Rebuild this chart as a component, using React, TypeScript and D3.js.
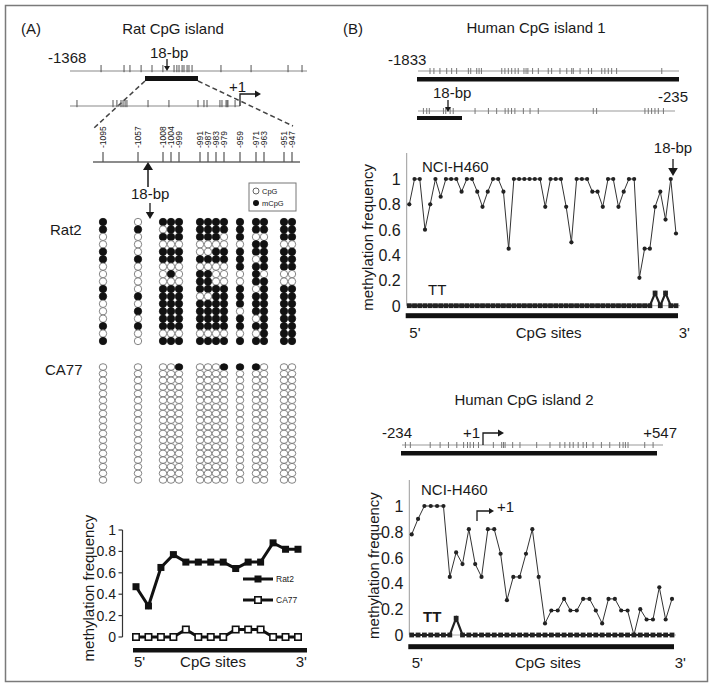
import React from "react";
import * as d3 from "d3";

// ---------- (A) Rat CpG island ----------
const ratSites = ["-1095", "-1057", "-1008", "-1004", "-999", "-991", "-987", "-983", "-979", "-959", "-971", "-963", "-951", "-947"];
const ratGroups = [1, 1, 3, 4, 1, 2, 2];

// 1 = mCpG, 0 = CpG, one string per site (top row first)
const rat2Pattern = [
  "11001100011000101",
  "01000100001010100",
  "10101100011111101",
  "11101101011111101",
  "11101100011111101",
  "11100101110111101",
  "11100101110111101",
  "11101100011111101",
  "11001100011111101",
  "11101110011101101",
  "11011011101110101",
  "11011110111111111",
  "11101110011111111",
  "11101110011111111",
];
const ca77Pattern = [
  "000000000000000000",
  "000000000000000000",
  "000000000000000000",
  "000000000000000000",
  "100000000000000000",
  "000000000000000000",
  "000000000000000000",
  "000000000000000000",
  "100000000000000000",
  "100000000000000000",
  "100000000000000000",
  "000000000000000000",
  "000000000000000000",
  "000000000000000000",
];

const rat2Freq = [0.47, 0.29, 0.65, 0.77, 0.7, 0.7, 0.7, 0.7, 0.64, 0.7, 0.7, 0.88, 0.82, 0.82];
const ca77Freq = [0, 0, 0, 0, 0.07, 0, 0, 0, 0.07, 0.07, 0.07, 0, 0, 0];

// CpG positions along each map line (% of line length)
const ratMap1 = [13.1, 22.8, 25.3, 30.0, 34.6, 39.2, 43.9, 45.1, 46.0, 47.3, 48.1, 49.4, 50.2, 51.5, 63.7, 76.4, 92.0, 97.9];
const ratMap2 = [4.1, 25.3, 27.6, 30.0, 31.2, 32.4, 33.5, 45.9, 58.2, 75.3, 78.8, 80.6, 88.2, 89.4, 91.8, 92.4, 92.9, 97.1];

// ---------- (B) Human CpG islands ----------
const hum1Map1 = [4.6, 6.1, 8.4, 11.0, 12.9, 14.8, 19.3, 20.2, 22.5, 23.4, 24.3, 32.1, 33.3, 34.6, 35.9, 37.2, 38.4, 40.6, 41.4, 42.1, 43.9, 46.1, 49.9, 51.2, 54.4, 57.0, 58.9, 59.5, 62.1, 65.3, 66.5, 70.4, 71.6, 72.9, 74.2, 76.1, 93.4];
const hum1Map2 = [2.1, 3.4, 4.4, 9.9, 10.8, 12.5, 13.7, 22.2, 27.4, 30.6, 33.9, 35.1, 36.4, 37.7, 41.0, 43.6, 46.8, 68.2, 69.5, 88.3, 89.6, 90.9, 92.2, 93.5, 95.5];
const hum2Map = [1.3, 3.2, 10.8, 14.6, 17.8, 21.0, 23.6, 25.1, 26.1, 27.4, 29.3, 35.0, 38.2, 38.9, 39.5, 42.4, 45.2, 51.6, 56.7, 60.5, 62.4, 64.3, 65.6, 67.5, 69.4, 70.7, 73.2, 76.4, 79.6, 83.4, 84.7, 85.6, 86.6, 93.0, 96.2];

const h1NCI = [0.8, 1, 1, 0.6, 0.8, 1, 0.86, 1, 1, 1, 0.9, 1, 1, 0.9, 0.78, 0.9, 1, 1, 0.9, 0.45, 1, 1, 1, 1, 1, 1, 0.78, 1, 1, 1, 0.78, 0.5, 1, 1, 1, 0.9, 0.9, 0.78, 1, 1, 0.78, 0.9, 1, 1, 0.22, 0.45, 0.45, 0.78, 0.9, 0.68, 1, 0.57];
const h1TT = [0, 0, 0, 0, 0, 0, 0, 0, 0, 0, 0, 0, 0, 0, 0, 0, 0, 0, 0, 0, 0, 0, 0, 0, 0, 0, 0, 0, 0, 0, 0, 0, 0, 0, 0, 0, 0, 0, 0, 0, 0, 0, 0, 0, 0, 0, 0, 0.1, 0, 0.1, 0, 0];
const h2NCI = [0.78, 0.9, 1, 1, 1, 1, 0.45, 0.64, 0.55, 0.82, 0.55, 0.45, 0.82, 0.82, 0.63, 0.27, 0.45, 0.45, 0.63, 0.82, 0.45, 0.09, 0.19, 0.19, 0.28, 0.19, 0.19, 0.28, 0.28, 0.19, 0.09, 0.28, 0.28, 0.19, 0.19, 0, 0.2, 0.12, 0.12, 0.37, 0.12, 0.28];
const h2TT = [0, 0, 0, 0, 0, 0, 0, 0.13, 0, 0, 0, 0, 0, 0, 0, 0, 0, 0, 0, 0, 0, 0, 0, 0, 0, 0, 0, 0, 0, 0, 0, 0, 0, 0, 0, 0, 0, 0, 0, 0, 0, 0];

const yTicks = [0, 0.2, 0.4, 0.6, 0.8, 1];

const FONT = "'Liberation Sans', Arial, Helvetica, sans-serif";
const INK = "#1a1a1a";
const fmt = d3.format("~g");

// x of each rat CpG column: 8px inside a group, gaps between groups
const groupGaps = [0, 27, 17, 13, 8, 8, 12];
function ratColumnX(): number[] {
  const xs: number[] = [];
  let x = 103;
  ratGroups.forEach((n, g) => {
    if (g > 0) x += 8 + groupGaps[g];
    for (let j = 0; j < n; j++) {
      if (j > 0) x += 8;
      xs.push(x);
    }
  });
  return xs;
}

// up = ticks stand on the line, otherwise they cross it
function MapLine({ sites, x0, x1, y, h = 3, up = true, color = "#8a8a8a" }: any) {
  const s = d3.scaleLinear().domain([0, 100]).range([x0, x1]);
  return (
    <g>
      <line x1={x0} x2={x1} y1={y} y2={y} stroke={color} strokeWidth={1.2} />
      {sites.map((p: number, i: number) => (
        <line
          key={i}
          x1={s(p)}
          x2={s(p)}
          y1={y - h}
          y2={up ? y + h * 0.2 : y + h}
          stroke={up ? "#555" : "#777"}
          strokeWidth={1}
        />
      ))}
    </g>
  );
}

function DownArrow({ x, y0, y1, head = 5 }: any) {
  return (
    <g>
      <line x1={x} x2={x} y1={y0} y2={y1 - head} stroke={INK} strokeWidth={1.3} />
      <path d={`M${x - head * 0.6},${y1 - head}L${x + head * 0.6},${y1 - head}L${x},${y1}Z`} fill={INK} />
    </g>
  );
}

function BentArrow({ x, yBase, yTop, xEnd, head = 5 }: any) {
  return (
    <g>
      <path d={`M${x},${yBase}V${yTop}H${xEnd - head}`} fill="none" stroke={INK} strokeWidth={1.3} />
      <path d={`M${xEnd - head},${yTop - head * 0.6}L${xEnd},${yTop}L${xEnd - head},${yTop + head * 0.6}Z`} fill={INK} />
    </g>
  );
}

function HumanChart({ nci, tt, x0, x1, y0, y1, yTop, axisX, labelX, barY, textY }: any) {
  const x = d3.scaleLinear().domain([0, nci.length - 1]).range([x0, x1]);
  const y = d3.scaleLinear().domain([0, 1]).range([y0, y1]);
  const line = d3.line<number>().x((_, i) => x(i)).y((d) => y(d));
  return (
    <g fontFamily={FONT} fill={INK}>
      <line x1={axisX} x2={axisX} y1={yTop} y2={y0} stroke="#9a9a9a" strokeWidth={1} />
      <line x1={axisX} x2={x1 + 4} y1={y0} y2={y0} stroke="#b0b0b0" strokeWidth={1} />
      {yTicks.map((t) => (
        <text key={t} x={axisX - 6} y={y(t) + 6} textAnchor="end" fontSize={16}>
          {fmt(t)}
        </text>
      ))}
      <text transform={`translate(${labelX},${(yTop + y0) / 2 + 8}) rotate(-90)`} textAnchor="middle" fontSize={15}>
        methylation frequency
      </text>
      <path d={line(nci) as string} fill="none" stroke="#333" strokeWidth={1} />
      {nci.map((d: number, i: number) => (
        <circle key={i} cx={x(i)} cy={y(d)} r={2.1} fill="#222" />
      ))}
      <path d={line(tt) as string} fill="none" stroke="#222" strokeWidth={2.2} />
      {tt.map((d: number, i: number) => (
        <rect key={i} x={x(i) - 2.4} y={y(d) - 2.4} width={4.8} height={4.8} fill="#222" />
      ))}
      <rect x={axisX - 1} y={barY - 2.5} width={x1 - axisX + 3} height={5} fill="#111" />
      <text x={x0} y={textY} fontSize={15}>5'</text>
      <text x={(x0 + x1) / 2 + 6} y={textY} fontSize={15} textAnchor="middle">CpG sites</text>
      <text x={x1 + 14} y={textY} fontSize={15} textAnchor="end">3'</text>
    </g>
  );
}

export default function App() {
  const colX = ratColumnX();

  // rat lollipop rows
  const rat2Y = d3.scaleLinear().domain([0, 16]).range([222, 341]);
  const ca77Y = d3.scaleLinear().domain([0, 17]).range([367, 480]);

  // rat methylation chart
  const rx = d3.scaleLinear().domain([0, rat2Freq.length - 1]).range([136, 298]);
  const ry = d3.scaleLinear().domain([0, 1]).range([637, 530]);
  const rline = d3.line<number>().x((_, i) => rx(i)).y((d) => ry(d));

  return (
    <svg
      width={714}
      height={693}
      style={{ position: "absolute", left: 0, top: 0, background: "#fff" }}
      fontFamily={FONT}
    >
      <rect x={5.5} y={5.5} width={702} height={676} fill="none" stroke="#7a7a7a" strokeWidth={1.5} />

      {/* ---------- Panel A ---------- */}
      <g fill={INK}>
        <text x={21} y={34} fontSize={15}>(A)</text>
        <text x={173} y={34} fontSize={15} textAnchor="middle">Rat CpG island</text>
        <text x={48} y={63} fontSize={15}>-1368</text>
        <text x={150} y={58} fontSize={15}>18-bp</text>
        <text x={229} y={92} fontSize={15}>+1</text>
      </g>
      <MapLine sites={ratMap1} x0={70} x1={307} y={71} h={6} />
      <DownArrow x={167} y0={59} y1={71} head={5} />
      <rect x={145} y={76} width={53} height={5} fill="#111" />
      <line x1={145} y1={81} x2={94} y2={128} stroke="#444" strokeWidth={1.5} strokeDasharray="5,3" />
      <line x1={198} y1={81} x2={293} y2={126} stroke="#444" strokeWidth={1.5} strokeDasharray="5,3" />
      <MapLine sites={ratMap2} x0={70} x1={240} y={106} h={6} />
      <BentArrow x={240} yBase={106} yTop={94} xEnd={261} head={6} />

      {/* CpG site map */}
      <line x1={93} x2={300} y1={162} y2={162} stroke="#666" strokeWidth={1.3} />
      {ratSites.map((s, i) => (
        <g key={s}>
          <line x1={colX[i]} x2={colX[i]} y1={152} y2={162} stroke="#555" strokeWidth={1.2} />
          <text
            transform={`translate(${colX[i] + 3},${148}) rotate(-90)`}
            fontSize={8.5}
            fill={INK}
          >
            {s}
          </text>
        </g>
      ))}
      <line x1={148} x2={148} y1={168} y2={187} stroke={INK} strokeWidth={1.5} />
      <path d="M143,170L153,170L148,162Z" fill={INK} />
      <text x={131} y={199} fontSize={15} fill={INK}>18-bp</text>
      <DownArrow x={150} y0={203} y1={219} head={7} />

      {/* legend */}
      <rect x={249} y={183} width={47} height={28} fill="#fff" stroke="#777" strokeWidth={1} />
      <circle cx={256} cy={191} r={3} fill="#fff" stroke="#555" strokeWidth={0.9} />
      <text x={262} y={194} fontSize={7.5} fill={INK}>CpG</text>
      <circle cx={256} cy={203} r={3} fill="#111" />
      <text x={262} y={206} fontSize={7.5} fill={INK}>mCpG</text>

      <text x={50} y={235} fontSize={15} fill={INK}>Rat2</text>
      <text x={45} y={375} fontSize={15} fill={INK}>CA77</text>

      {rat2Pattern.map((col, i) =>
        col.split("").map((c, r) => (
          <circle
            key={`r${i}-${r}`}
            cx={colX[i]}
            cy={rat2Y(r)}
            r={3.7}
            fill={c === "1" ? "#111" : "#fff"}
            stroke={c === "1" ? "#111" : "#666"}
            strokeWidth={0.8}
          />
        ))
      )}
      {ca77Pattern.map((col, i) =>
        col.split("").map((c, r) => (
          <ellipse
            key={`c${i}-${r}`}
            cx={colX[i]}
            cy={ca77Y(r)}
            rx={3.8}
            ry={3.3}
            fill={c === "1" ? "#111" : "#fff"}
            stroke={c === "1" ? "#111" : "#666"}
            strokeWidth={0.8}
          />
        ))
      )}

      {/* rat methylation chart */}
      <g fill={INK}>
        <line x1={122.5} x2={122.5} y1={ry(1)} y2={ry(0)} stroke="#333" strokeWidth={1.2} />
        {yTicks.map((t) => (
          <g key={t}>
            <line x1={118.5} x2={122.5} y1={ry(t)} y2={ry(t)} stroke="#333" strokeWidth={1.2} />
            <text x={116} y={ry(t) + 5} fontSize={14} textAnchor="end">{fmt(t)}</text>
          </g>
        ))}
        <text transform={`translate(94,588) rotate(-90)`} fontSize={15} textAnchor="middle">
          methylation frequency
        </text>
        <path d={rline(rat2Freq) as string} fill="none" stroke="#111" strokeWidth={3} />
        {rat2Freq.map((d, i) => (
          <rect key={i} x={rx(i) - 3.5} y={ry(d) - 3.5} width={7} height={7} fill="#111" />
        ))}
        <path d={rline(ca77Freq) as string} fill="none" stroke="#111" strokeWidth={3} />
        {ca77Freq.map((d, i) => (
          <rect key={i} x={rx(i) - 3.2} y={ry(d) - 3.2} width={6.4} height={6.4} fill="#fff" stroke="#111" strokeWidth={1.6} />
        ))}
        <line x1={243} x2={273} y1={579} y2={579} stroke="#111" strokeWidth={3} />
        <rect x={254.5} y={575.5} width={7} height={7} fill="#111" />
        <text x={276} y={582} fontSize={8.5}>Rat2</text>
        <line x1={243} x2={273} y1={600} y2={600} stroke="#111" strokeWidth={3} />
        <rect x={254.8} y={596.8} width={6.4} height={6.4} fill="#fff" stroke="#111" strokeWidth={1.6} />
        <text x={276} y={603} fontSize={8.5}>CA77</text>
        <rect x={133} y={648} width={174} height={4.5} fill="#111" />
        <text x={134} y={667} fontSize={15}>5'</text>
        <text x={213} y={667} fontSize={15} textAnchor="middle">CpG sites</text>
        <text x={307} y={667} fontSize={15} textAnchor="end">3'</text>
      </g>

      {/* ---------- Panel B ---------- */}
      <g fill={INK}>
        <text x={343} y={34} fontSize={15}>(B)</text>
        <text x={536} y={33} fontSize={15} textAnchor="middle">Human CpG island 1</text>
        <text x={388} y={65} fontSize={15}>-1833</text>
        <text x={433} y={98} fontSize={15}>18-bp</text>
        <text x={688} y={102} fontSize={15} textAnchor="end">-235</text>
      </g>
      <MapLine sites={hum1Map1} x0={418} x1={679} y={71} h={3} up={false} color="#9a9a9a" />
      <rect x={417} y={77} width={262} height={4.5} fill="#111" />
      <MapLine sites={hum1Map2} x0={418} x1={675} y={111} h={3} up={false} color="#9a9a9a" />
      <DownArrow x={448} y0={100} y1={112} head={5} />
      <rect x={417} y={116} width={45} height={4} fill="#111" />

      <text x={673} y={153} fontSize={15} textAnchor="middle" fill={INK}>18-bp</text>
      <DownArrow x={673} y0={159} y1={176} head={8} />
      <text x={422} y={172} fontSize={15} fill={INK}>NCI-H460</text>
      <text x={428} y={295} fontSize={15} fill={INK}>TT</text>
      <HumanChart
        nci={h1NCI}
        tt={h1TT}
        x0={409.3}
        x1={676}
        y0={305.7}
        y1={179}
        yTop={153}
        axisX={406.7}
        labelX={373}
        barY={315.7}
        textY={338}
      />

      <g fill={INK}>
        <text x={524} y={405} fontSize={15} textAnchor="middle">Human CpG island 2</text>
        <text x={382} y={438} fontSize={15}>-234</text>
        <text x={463} y={438} fontSize={15}>+1</text>
        <text x={677} y={438} fontSize={15} textAnchor="end">+547</text>
      </g>
      <MapLine sites={hum2Map} x0={402} x1={663} y={445} h={3} up={false} color="#9a9a9a" />
      <BentArrow x={483} yBase={445} yTop={433} xEnd={504} head={6} />
      <rect x={401} y={451} width={256} height={4.5} fill="#111" />

      <text x={421} y={495} fontSize={15} fill={INK}>NCI-H460</text>
      <BentArrow x={477} yBase={521} yTop={511} xEnd={494} head={5} />
      <text x={497} y={512} fontSize={15} fill={INK}>+1</text>
      <text x={423} y={622} fontSize={15} fontWeight="bold" fill={INK}>TT</text>
      <HumanChart
        nci={h2NCI}
        tt={h2TT}
        x0={411.7}
        x1={672}
        y0={635}
        y1={506}
        yTop={480}
        axisX={409.3}
        labelX={379}
        barY={646.7}
        textY={668}
      />
    </svg>
  );
}
